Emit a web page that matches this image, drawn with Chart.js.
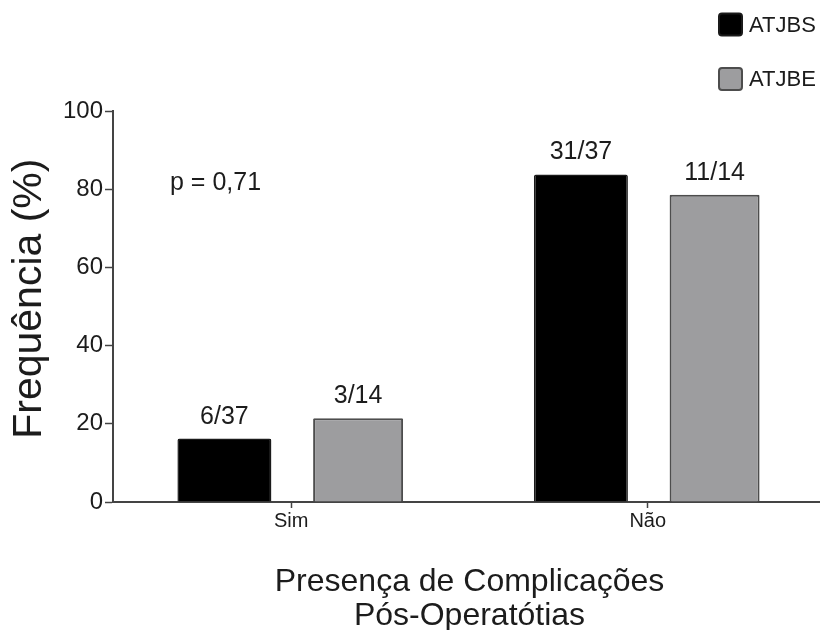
<!DOCTYPE html>
<html>
<head>
<meta charset="utf-8">
<script src="https://cdn.jsdelivr.net/npm/chart.js@4/dist/chart.umd.min.js"></script>
<style>
  html, body { margin: 0; padding: 0; background: #fff; overflow: hidden; }
  canvas { display: block; }
</style>
</head>
<body>
<canvas id="c" width="826" height="630"></canvas>
<script>
// Categories and the two patient groups
const categories = ['Sim', 'Não'];
const seriesNames = ['ATJBS', 'ATJBE'];
// Counts shown above each bar (cases / group size)
const atjbsCases = [6, 31];
const atjbsTotals = [37, 37];
const atjbeCases = [3, 11];
const atjbeTotals = [14, 14];
const yTicks = [0, 20, 40, 60, 80, 100];
const yTitle = 'Frequência (%)';
const xTitle = ['Presença de Complicações', 'Pós-Operatótias'];
const pValueText = 'p = 0,71';

const pct = (c, t) => c.map((v, i) => v / t[i] * 100);
const fracLabels = (c, t) => c.map((v, i) => v + '/' + t[i]);

const FONT = '"Liberation Sans", Arial, Helvetica, sans-serif';
const TXT = '#1c1c1c';
const AXIS = '#444';

// Count labels above the bars
const countLabels = {
  id: 'countLabels',
  afterDatasetsDraw(chart) {
    const ctx = chart.ctx;
    ctx.save();
    ctx.font = '25px ' + FONT;
    ctx.fillStyle = TXT;
    ctx.textAlign = 'center';
    ctx.textBaseline = 'alphabetic';
    chart.data.datasets.forEach((ds, di) => {
      chart.getDatasetMeta(di).data.forEach((bar, i) => {
        ctx.fillText(ds.fracs[i], bar.x, bar.y - 15);
      });
    });
    ctx.restore();
  }
};

// Legend in the upper-right corner
const cornerLegend = {
  id: 'cornerLegend',
  afterDraw(chart) {
    const ctx = chart.ctx;
    ctx.save();
    chart.data.datasets.forEach((ds, i) => {
      const cy = 24.5 + i * 54.5;
      ctx.beginPath();
      ctx.roundRect(719, cy - 11, 23, 22, 3);
      ctx.fillStyle = ds.backgroundColor;
      ctx.fill();
      ctx.lineWidth = 2;
      ctx.strokeStyle = ds.borderColor;
      ctx.stroke();
      ctx.font = '22px ' + FONT;
      ctx.fillStyle = TXT;
      ctx.textAlign = 'left';
      ctx.textBaseline = 'middle';
      ctx.fillText(ds.label, 749, cy + 1);
    });
    ctx.restore();
  }
};

// p-value note and the vertical axis title
const notes = {
  id: 'notes',
  afterDraw(chart) {
    const ctx = chart.ctx;
    const y = chart.scales.y.getPixelForValue(81.5);
    ctx.save();
    ctx.font = '25px ' + FONT;
    ctx.fillStyle = TXT;
    ctx.textAlign = 'left';
    ctx.textBaseline = 'middle';
    ctx.fillText(pValueText, 170, y);

    ctx.translate(30, chart.scales.y.getPixelForValue(52));
    ctx.rotate(-Math.PI / 2);
    ctx.font = '41px ' + FONT;
    ctx.textAlign = 'center';
    ctx.fillText(yTitle, 0, 0);
    ctx.restore();
  }
};

new Chart(document.getElementById('c'), {
  type: 'bar',
  data: {
    labels: categories,
    datasets: [
      {
        label: seriesNames[0],
        data: pct(atjbsCases, atjbsTotals),
        fracs: fracLabels(atjbsCases, atjbsTotals),
        backgroundColor: '#000000',
        borderColor: '#1a1a1a',
        borderWidth: 1.5,
        borderRadius: 2,
        borderSkipped: 'bottom',
        barPercentage: 0.703
      },
      {
        label: seriesNames[1],
        data: pct(atjbeCases, atjbeTotals),
        fracs: fracLabels(atjbeCases, atjbeTotals),
        backgroundColor: '#9d9d9f',
        borderColor: '#4d4d4d',
        borderWidth: 2,
        borderRadius: 1,
        borderSkipped: 'bottom',
        barPercentage: 0.673
      }
    ]
  },
  options: {
    responsive: false,
    animation: false,
    devicePixelRatio: 1,
    categoryPercentage: 0.75,
    layout: { padding: { top: 111, left: 0, right: 0, bottom: 0 } },
    plugins: { legend: { display: false }, tooltip: { enabled: false } },
    scales: {
      x: {
        afterFit(s) { s.height = 128; },
        grid: {
          display: true, drawOnChartArea: false, offset: false,
          tickLength: 6, tickWidth: 1.5, tickColor: AXIS
        },
        border: { display: true, color: AXIS, width: 2 },
        ticks: { color: TXT, font: { family: FONT, size: 20 }, padding: 1 },
        title: {
          display: true,
          text: xTitle,
          color: TXT,
          font: { family: FONT, size: 32, lineHeight: '34px' },
          padding: { top: 0, bottom: -3 }
        }
      },
      y: {
        min: 0, max: 100,
        afterFit(s) { s.width = 113; },
        afterBuildTicks(s) { s.ticks = yTicks.map(v => ({ value: v })); },
        grid: {
          display: true, drawOnChartArea: false,
          tickLength: 8, tickWidth: 1.5, tickColor: AXIS
        },
        border: { display: true, color: AXIS, width: 2 },
        ticks: { color: TXT, font: { family: FONT, size: 24 }, padding: 2 },
        title: { display: false }
      }
    }
  },
  plugins: [countLabels, cornerLegend, notes]
});
</script>
</body>
</html>
